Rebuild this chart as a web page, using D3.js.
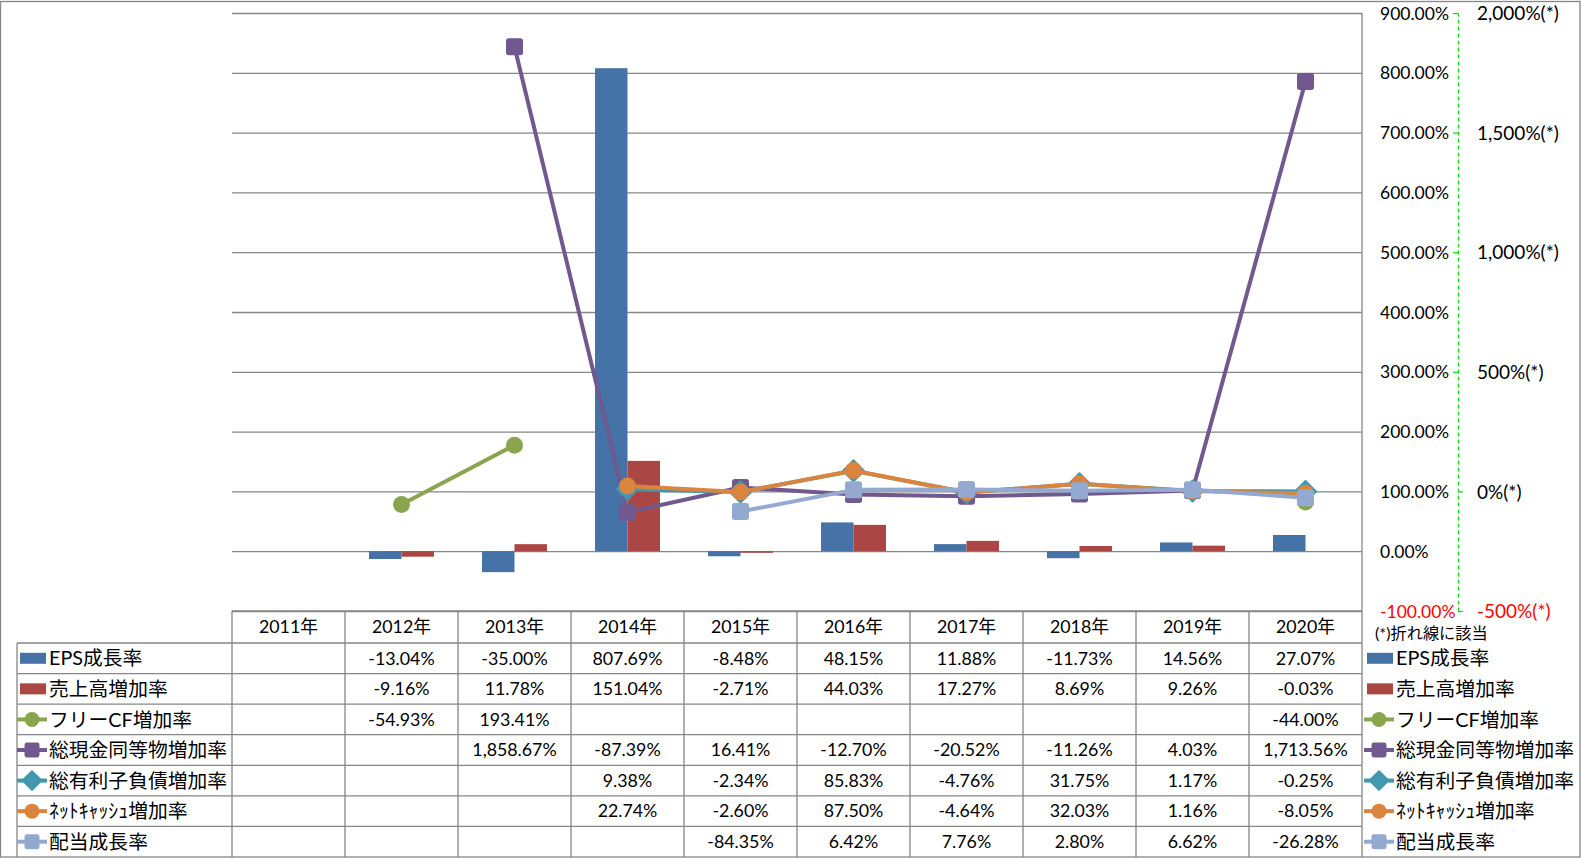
<!DOCTYPE html>
<html>
<head>
<meta charset="utf-8">
<script src="https://cdn.jsdelivr.net/npm/d3@7"></script>
<style>
  html, body { margin: 0; padding: 0; background: #fff; }
  svg { display: block; }
  text { font-family: 'Lato', 'Noto Sans CJK JP', sans-serif; fill: #000; }
</style>
</head>
<body>
<svg id="chart" width="1581" height="858"></svg>
<script>
// ---------------- DATA ----------------
const years = ['2011年','2012年','2013年','2014年','2015年','2016年','2017年','2018年','2019年','2020年'];
const epsGrowth      = [null, -13.04, -35.00, 807.69, -8.48, 48.15, 11.88, -11.73, 14.56, 27.07];
const salesGrowth    = [null, -9.16, 11.78, 151.04, -2.71, 44.03, 17.27, 8.69, 9.26, -0.03];
const freeCfGrowth   = [null, -54.93, 193.41, null, null, null, null, null, null, -44.00];
const cashGrowth     = [null, null, 1858.67, -87.39, 16.41, -12.70, -20.52, -11.26, 4.03, 1713.56];
const debtGrowth     = [null, null, null, 9.38, -2.34, 85.83, -4.76, 31.75, 1.17, -0.25];
const netCashGrowth  = [null, null, null, 22.74, -2.60, 87.50, -4.64, 32.03, 1.16, -8.05];
const dividendGrowth = [null, null, null, null, -84.35, 6.42, 7.76, 2.80, 6.62, -26.28];

const seriesNames = ['EPS成長率','売上高増加率','フリーCF増加率','総現金同等物増加率','総有利子負債増加率','ﾈｯﾄｷｬｯｼｭ増加率','配当成長率'];
const primaryTicks = [-100, 0, 100, 200, 300, 400, 500, 600, 700, 800, 900];
const secondaryTicks = [-500, 0, 500, 1000, 1500, 2000];
const noteText = '(*)折れ線に該当';

// ---------------- STYLE / LAYOUT ----------------
const colors = ['#4572A7','#AA4643','#89A54E','#71588F','#4198AF','#DB843D','#93A9CF'];
const kinds  = ['bar','bar','circle','square','diamond','circle','square'];
const values = [epsGrowth, salesGrowth, freeCfGrowth, cashGrowth, debtGrowth, netCashGrowth, dividendGrowth];

const plotL = 232, plotR = 1362, plotT = 13, plotB = 611;
const tableTop = 611, headerBottom = 643, tableBottom = 857;
const legendLeft = 17;
const gridColor = '#868686';

const loc = d3.formatLocale({decimal: '.', thousands: ',', grouping: [3], currency: ['', ''], minus: '-'});
const fmtPct = v => loc.format(',.2f')(v) + '%';
const fmtSec = v => loc.format(',')(v) + '%(*)';

const svg = d3.select('#chart');

// scales
const x = d3.scaleBand().domain(years).range([plotL, plotR]).padding(0);
const xBar = d3.scaleBand().domain([0, 1]).range([-32.5, 32.5]).padding(0);
const yP = d3.scaleLinear().domain([-100, 900]).range([plotB, plotT]);
const yS = d3.scaleLinear().domain([-500, 2000]).range([plotB, plotT]);
const rowY = d3.scaleBand().domain(seriesNames).range([headerBottom, tableBottom]).padding(0);

// outer border
svg.append('rect').attr('x', 0.5).attr('y', 1.5).attr('width', 1579.5).attr('height', 855.5)
  .attr('fill', 'none').attr('stroke', gridColor).attr('stroke-width', 1.3);

// gridlines
const grid = svg.append('g').attr('transform', `translate(${plotL},0)`)
  .call(d3.axisLeft(yP).tickValues(primaryTicks).tickSize(-(plotR - plotL)).tickFormat(''));
grid.select('.domain').remove();
grid.selectAll('line').attr('stroke', gridColor).attr('stroke-width', 1.3);

// right axis line of plot
svg.append('line').attr('x1', plotR).attr('x2', plotR).attr('y1', plotT).attr('y2', plotB)
  .attr('stroke', gridColor).attr('stroke-width', 1.3);

// primary axis labels
const axP = svg.append('g').attr('transform', 'translate(1380,0)')
  .call(d3.axisRight(yP).tickValues(primaryTicks).tickSize(0).tickPadding(0).tickFormat(fmtPct));
axP.select('.domain').remove();
axP.selectAll('text').attr('font-size', 17.5).attr('x', 0).attr('dy', '0.35em')
  .attr('font-family', "'Lato','Noto Sans CJK JP',sans-serif")
  .style('fill', d => d < 0 ? '#FF0000' : '#000');

// secondary axis (green dashed)
const axS = svg.append('g').attr('transform', 'translate(1458,0)')
  .call(d3.axisRight(yS).tickValues(secondaryTicks).tickSize(0).tickPadding(19).tickFormat(fmtSec));
axS.select('.domain').attr('stroke', '#00E000').attr('stroke-width', 1.2).attr('stroke-dasharray', '4,3');
axS.selectAll('.tick line').remove();
axS.selectAll('.tick').append('line')
  .attr('x1', d => d > 0 ? -5 : 0).attr('x2', d => d > 0 ? 0 : 5)
  .attr('stroke', '#00E000').attr('stroke-width', 1.2);
axS.selectAll('text').attr('font-size', 19).attr('dy', '0.35em')
  .attr('font-family', "'Lato','Noto Sans CJK JP',sans-serif")
  .style('fill', d => d < 0 ? '#FF0000' : '#000');

// bars
const barG = svg.append('g');
[0, 1].forEach(si => {
  barG.selectAll(null).data(values[si].map((v, i) => ({v, i})).filter(d => d.v != null))
    .enter().append('rect')
    .attr('x', d => x(years[d.i]) + x.bandwidth() / 2 + xBar(si))
    .attr('width', xBar.bandwidth())
    .attr('y', d => Math.min(yP(d.v), yP(0)))
    .attr('height', d => Math.abs(yP(d.v) - yP(0)))
    .attr('fill', colors[si]);
});

// marker drawing helper
function marker(sel, kind, color, size) {
  if (kind === 'circle') {
    sel.append('circle').attr('r', size / 2).attr('fill', color);
  } else if (kind === 'square') {
    sel.append('rect').attr('x', -size / 2).attr('y', -size / 2).attr('width', size).attr('height', size)
      .attr('rx', size * 0.16).attr('fill', color);
  } else if (kind === 'diamond') {
    const h = size * 0.62;
    sel.append('path').attr('d', `M0,${-h}L${h},0L0,${h}L${-h},0Z`).attr('fill', color)
      .attr('stroke', color).attr('stroke-width', 2).attr('stroke-linejoin', 'round');
  }
}

// lines (secondary axis)
const lineGen = d3.line()
  .defined(d => d.v != null)
  .x(d => x(years[d.i]) + x.bandwidth() / 2)
  .y(d => yS(d.v));

for (let si = 2; si < 7; si++) {
  const data = values[si].map((v, i) => ({v, i}));
  const g = svg.append('g');
  g.append('path').datum(data).attr('d', lineGen)
    .attr('fill', 'none').attr('stroke', colors[si]).attr('stroke-width', 4)
    .attr('stroke-linejoin', 'round').attr('stroke-linecap', 'round');
  g.selectAll(null).data(data.filter(d => d.v != null)).enter().append('g')
    .attr('transform', d => `translate(${x(years[d.i]) + x.bandwidth() / 2},${yS(d.v)})`)
    .each(function () { marker(d3.select(this), kinds[si], colors[si], 17); });
}

// ---------------- DATA TABLE ----------------
const tbl = svg.append('g');
tbl.append('line').attr('x1', plotL).attr('x2', plotR).attr('y1', tableTop).attr('y2', tableTop)
  .attr('stroke', gridColor).attr('stroke-width', 1.3);
seriesNames.forEach(n => {
  tbl.append('line').attr('x1', legendLeft).attr('x2', plotR).attr('y1', rowY(n)).attr('y2', rowY(n))
    .attr('stroke', gridColor).attr('stroke-width', 1.3);
});
years.forEach(yr => {
  tbl.append('line').attr('x1', x(yr)).attr('x2', x(yr)).attr('y1', tableTop).attr('y2', tableBottom)
    .attr('stroke', gridColor).attr('stroke-width', 1.3);
});
tbl.append('line').attr('x1', plotR).attr('x2', plotR).attr('y1', tableTop).attr('y2', tableBottom)
  .attr('stroke', gridColor).attr('stroke-width', 1.3);
tbl.append('line').attr('x1', legendLeft).attr('x2', legendLeft).attr('y1', headerBottom).attr('y2', tableBottom)
  .attr('stroke', gridColor).attr('stroke-width', 1.3);

// header years
tbl.selectAll(null).data(years).enter().append('text')
  .attr('x', d => x(d) + x.bandwidth() / 2).attr('y', (tableTop + headerBottom) / 2)
  .attr('text-anchor', 'middle').attr('dy', '0.35em').attr('font-size', 17.8).text(d => d);

// values
values.forEach((arr, si) => {
  const cy = rowY(seriesNames[si]) + rowY.bandwidth() / 2;
  tbl.selectAll(null).data(arr.map((v, i) => ({v, i})).filter(d => d.v != null)).enter().append('text')
    .attr('x', d => x(years[d.i]) + x.bandwidth() / 2).attr('y', cy)
    .attr('text-anchor', 'middle').attr('dy', '0.35em').attr('font-size', 17.8)
    .text(d => fmtPct(d.v));
});

// legends (left and right)
function legendEntry(x0, si) {
  const cy = rowY(seriesNames[si]) + rowY.bandwidth() / 2;
  const g = svg.append('g').attr('transform', `translate(${x0},${cy})`);
  if (kinds[si] === 'bar') {
    g.append('rect').attr('x', 3).attr('y', -5.5).attr('width', 26).attr('height', 11).attr('fill', colors[si]);
  } else {
    g.append('line').attr('x1', 0).attr('x2', 30).attr('stroke', colors[si]).attr('stroke-width', 4);
    const m = g.append('g').attr('transform', 'translate(15,0)');
    marker(m, kinds[si], colors[si], 15);
  }
  g.append('text').attr('x', 32).attr('dy', '0.36em').attr('font-size', 19.8).text(seriesNames[si]);
}
for (let si = 0; si < 7; si++) {
  legendEntry(17, si);
  legendEntry(1364, si);
}

// note
svg.append('text').attr('x', 1375).attr('y', 633).attr('dy', '0.35em').attr('font-size', 16.2).text(noteText);
</script>
</body>
</html>
